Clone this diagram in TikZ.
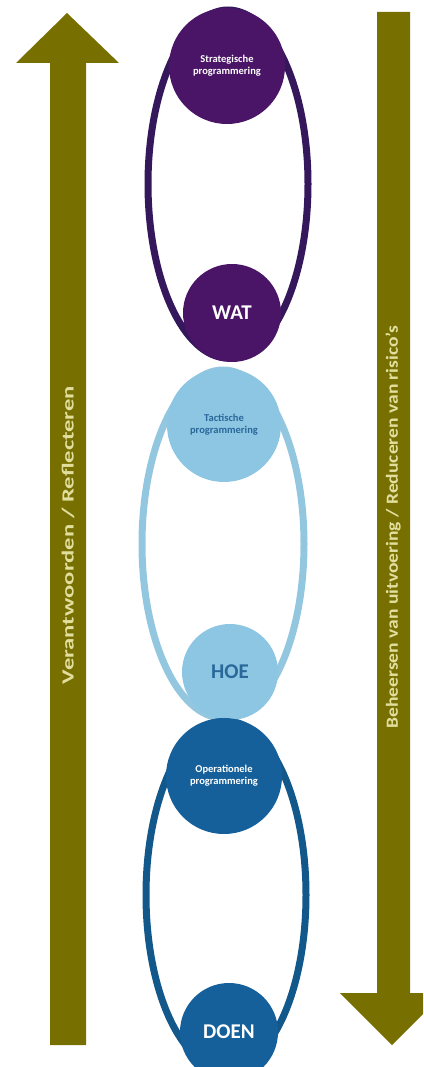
\documentclass[tikz,border=0pt]{standalone}
\usepackage{fontspec}
\setmainfont{Carlito}
\usetikzlibrary{shapes.geometric}
\definecolor{purp}{HTML}{4A1566}
\definecolor{purpline}{HTML}{35185C}
\definecolor{lblue}{HTML}{8CC6E3}
\definecolor{lblueline}{HTML}{93C7E0}
\definecolor{dblue}{HTML}{15609A}
\definecolor{dblueline}{HTML}{13588A}
\definecolor{olivearrow}{HTML}{776F00}
\definecolor{arrowtxt}{HTML}{E2DF9E}
\definecolor{tacttxt}{HTML}{2A689A}
\tikzset{
  circ/.style={circle, inner sep=0pt, align=center, font=\bfseries},
  smalltxt/.style={font=\bfseries\fontsize{10.5}{12}\selectfont},
  bigtxt/.style={font=\bfseries\fontsize{21}{24}\selectfont},
  ring/.style={line width=7pt},
  arrowtext/.style={text=arrowtxt, inner sep=0pt, font=\bfseries\fontsize{17}{20}\selectfont}
}
\begin{document}
\begin{tikzpicture}[x=1pt,y=-1pt]
\useasboundingbox (0,0) rectangle (423,1067);
\clip (0,0) rectangle (423,1067);
% arrows
\fill[olivearrow] (50,1045) -- (50,63) -- (16,63) -- (67,13) -- (119,63) -- (86,63) -- (86,1045) -- cycle;
\fill[olivearrow] (377,12) -- (410,12) -- (410,993) -- (444,993) -- (392,1045) -- (340,993) -- (377,993) -- cycle;
\node[arrowtext, rotate=90] (lt) at (68,535) {\scalebox{1.45}[1]{Verantwoorden / Reflecteren}};
\node[arrowtext, rotate=90] (rt) at (393,527) {\scalebox{1.15}[1]{Beheersen van uitvoering / Reduceren van risico's}};
% rings
\draw[ring, purpline] (228,184) ellipse [x radius=80, y radius=174];
\draw[ring, lblueline] (223,544) ellipse [x radius=81, y radius=174];
\draw[ring, dblueline] (226,895) ellipse [x radius=80, y radius=174];
% circles
\node[circ, fill=purp, minimum size=116pt, text=white, smalltxt] (strat) at (227,66) {Strategische\\programmering};
\node[circ, fill=purp, minimum size=98pt, text=white, bigtxt] (wat) at (232,313) {WAT};
\node[circ, fill=lblue, minimum size=114pt, text=tacttxt, smalltxt] (tact) at (224,425) {Tactische\\programmering};
\node[circ, fill=lblue, minimum size=96pt, text=tacttxt, bigtxt] (hoe) at (230,672) {HOE};
\node[circ, fill=dblue, minimum size=116pt, text=white, smalltxt] (oper) at (224,776) {Operationele\\programmering};
\node[circ, fill=dblue, minimum size=98pt, text=white, bigtxt] (doen) at (229,1032) {DOEN};
\end{tikzpicture}
\end{document}
